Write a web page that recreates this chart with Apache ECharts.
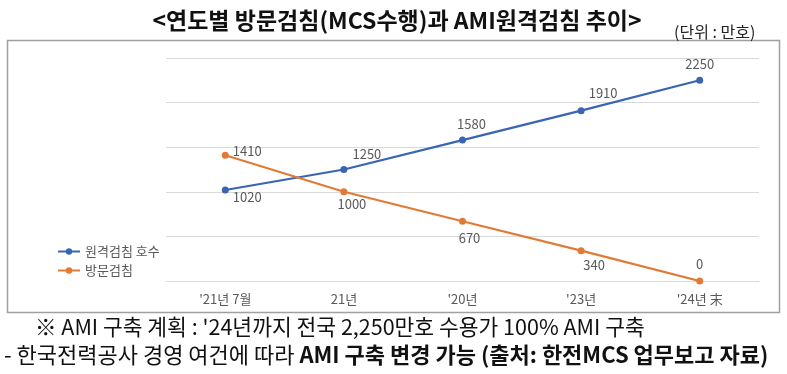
<!DOCTYPE html>
<html><head><meta charset="utf-8">
<script src="https://cdn.jsdelivr.net/npm/echarts@6/dist/echarts.min.js"></script>
<style>html,body{margin:0;padding:0;background:#fff}#c{width:787px;height:374px}</style>
</head><body><div id="c"></div>
<script>
const categories = ["'21년 7월", "21년", "'20년", "'23년", "'24년 末"];
const remoteValues = [1020, 1250, 1580, 1910, 2250];
const visitValues = [1410, 1000, 670, 340, 0];
const seriesNames = ["원격검침 호수", "방문검침"];
const yTicks = { min: 0, max: 2500, interval: 500 };

const remoteLabelOffsets = [[22,7],[23,-15],[9,-16],[22,-18],[0,-16]];
const visitLabelOffsets = [[22,-4],[8,12],[7,17],[13,14],[0,-17]];
const FONT = '"Noto Sans CJK KR", "Noto Sans", sans-serif';

function mk(values, offs){
  return values.map((v,i)=>({value:v, label:{show:true, position:'inside', offset:offs[i], color:'#595959', fontSize:13, fontFamily:FONT}}));
}

const chart = echarts.init(document.getElementById('c'), null, {renderer:'canvas'});
chart.setOption({
  animation:false,
  textStyle:{fontFamily:FONT},
  title:[
    {text:'<연도별 방문검침(MCS수행)과 AMI원격검침 추이>', left:392, top:4, textAlign:'center',
     textStyle:{fontSize:23, fontWeight:'bold', color:'#111', fontFamily:FONT}},
    {text:'(단위 : 만호)', left:669, top:19, textStyle:{fontSize:16, fontWeight:'normal', color:'#222', fontFamily:FONT}}
  ],
  legend:{orient:'vertical', left:52, top:240, itemGap:6, itemWidth:22, itemHeight:8,
    textStyle:{color:'#595959', fontSize:13, fontFamily:FONT}, data:seriesNames},
  grid:{left:166, right:28, top:58, bottom:93},
  xAxis:{type:'category', data:categories, boundaryGap:true,
    axisLine:{show:true, lineStyle:{color:'#d9d9d9', width:1}}, axisTick:{show:false},
    axisLabel:{color:'#595959', fontSize:13, margin:12, fontFamily:FONT}},
  yAxis:{type:'value', min:yTicks.min, max:yTicks.max, interval:yTicks.interval,
    axisLabel:{show:false}, axisLine:{show:false}, axisTick:{show:false},
    splitLine:{lineStyle:{color:'#d9d9d9', width:1}}},
  series:[
    {name:seriesNames[0], type:'line', data:mk(remoteValues, remoteLabelOffsets), symbol:'circle', symbolSize:7,
     lineStyle:{color:'#3A65B3', width:2.2}, itemStyle:{color:'#3A65B3'}},
    {name:seriesNames[1], type:'line', data:mk(visitValues, visitLabelOffsets), symbol:'circle', symbolSize:7,
     lineStyle:{color:'#E27A35', width:2.2}, itemStyle:{color:'#E27A35'}}
  ],
  graphic:[
    {type:'rect', shape:{x:7.5, y:40.5, width:772, height:272}, style:{fill:'none', stroke:'#a0a0a0', lineWidth:1.5}, silent:true},
    {type:'text', left:35, top:316, style:{text:'※ AMI 구축 계획 : \'24년까지 전국 2,250만호 수용가 100% AMI 구축', fontSize:21.5, fill:'#111', fontFamily:FONT}},
    {type:'text', left:4, top:344, style:{
      text:'{n|- 한국전력공사 경영 여건에 따라 }{b|AMI 구축 변경 가능 (출처: 한전MCS 업무보고 자료)}',
      rich:{n:{fontSize:22, fill:'#111', fontFamily:FONT}, b:{fontSize:22, fontWeight:'bold', fill:'#111', fontFamily:FONT}}}}
  ]
});
</script></body></html>
